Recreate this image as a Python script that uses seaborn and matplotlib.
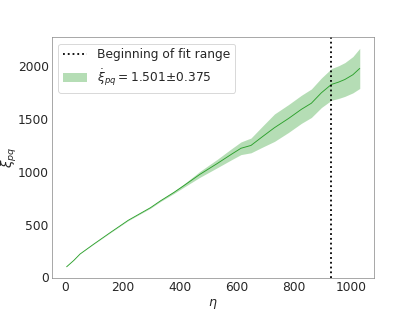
import matplotlib
matplotlib.use("Agg")
import matplotlib.pyplot as plt
import seaborn as sns
import numpy as np
import pandas as pd

eta = [5, 30, 52, 100, 158, 220, 298, 333, 380, 415, 470, 532, 580, 614, 649, 690, 731, 780, 825, 860, 895, 930, 955, 977, 1005, 1029]
xi = [100, 160, 221, 315, 425, 540, 660, 725, 805, 870, 975, 1080, 1165, 1223, 1250, 1335, 1418, 1505, 1592, 1650, 1749, 1828, 1850, 1875, 1920, 1980]
err = [0, 0, 0, 1, 2, 3, 5, 6, 10, 15, 28, 40, 52, 60, 70, 100, 130, 132, 133, 135, 140, 150, 155, 160, 172, 190]
fit_start = 930
label_fit = "Beginning of fit range"
label_band = r"$\dot{\xi}_{pq} = 1.501$±$0.375$"

sns.set_style("white")
plt.rcParams["font.family"] = ["DejaVu Sans"]

df = pd.DataFrame({"eta": eta, "xi": xi, "err": err})
fig, ax = plt.subplots(figsize=(6.4, 4.8), dpi=65)
green = "#2ca02c"
sns.lineplot(data=df, x="eta", y="xi", ax=ax, color=green, lw=1)
ax.fill_between(df["eta"], df["xi"] - df["err"], df["xi"] + df["err"], color=green, alpha=0.35, lw=0, label=label_band)
ax.axvline(fit_start, color="black", ls=":", lw=2, label=label_fit)
ax.set_xlabel(r"$\eta$", fontsize=14, labelpad=3)
ax.set_ylabel(r"$\xi_{pq}$", fontsize=15, labelpad=-1)
ax.tick_params(labelsize=13.5, length=0, pad=3.5)
for s in ax.spines.values():
    s.set_color("#888888")
h, l = ax.get_legend_handles_labels()
ax.legend(h[::-1], l[::-1], loc="upper left", fontsize=13.5)
fig.savefig("out.png", dpi=65)
